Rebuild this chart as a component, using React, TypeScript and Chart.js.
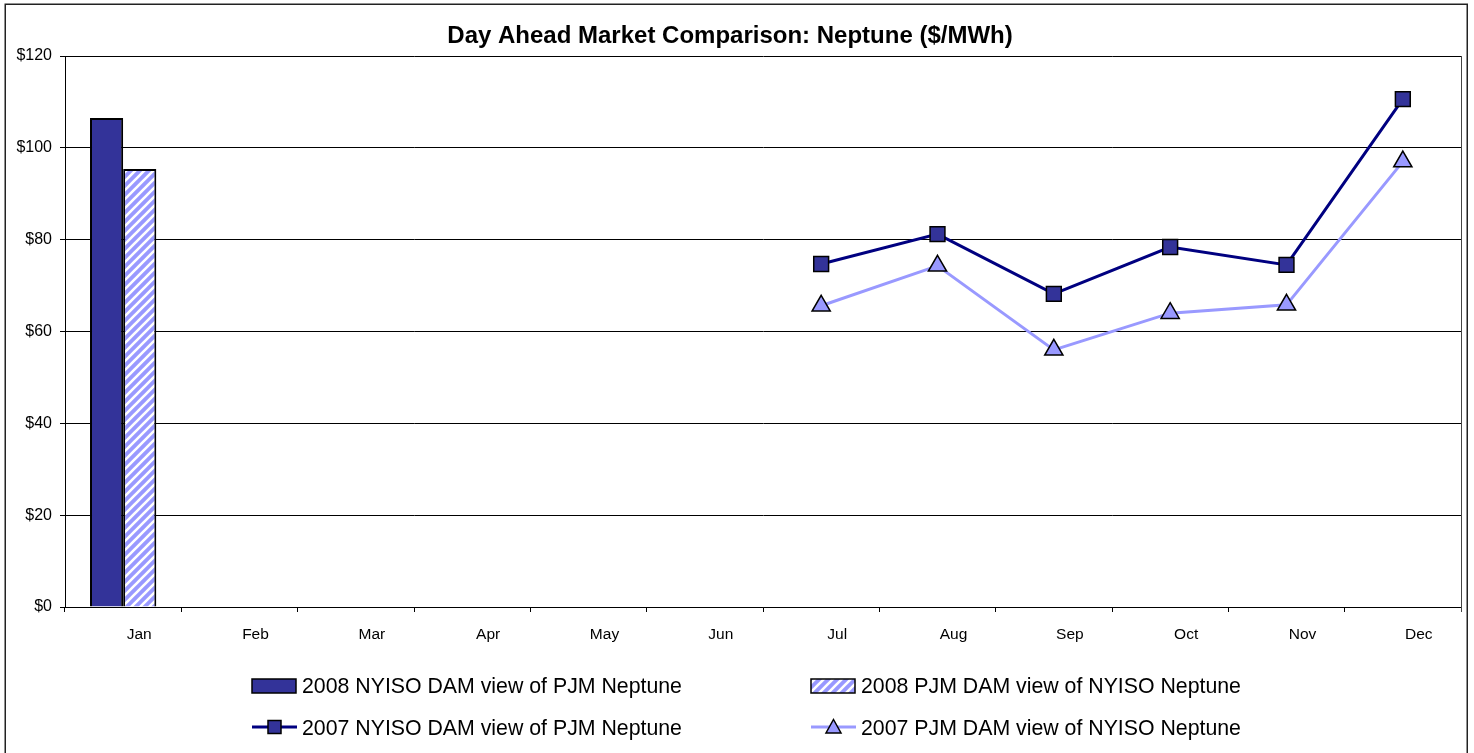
import { useEffect, useRef } from 'react';
import { Chart, registerables } from 'chart.js';

Chart.register(...registerables);

const FONT = "'Liberation Sans', Arial, sans-serif";

const titleText = 'Day Ahead Market Comparison: Neptune ($/MWh)';
const months = ['Jan', 'Feb', 'Mar', 'Apr', 'May', 'Jun', 'Jul', 'Aug', 'Sep', 'Oct', 'Nov', 'Dec'];
const nyiso2008: (number | null)[] = [106.5, null, null, null, null, null, null, null, null, null, null, null];
const pjm2008: (number | null)[] = [95.4, null, null, null, null, null, null, null, null, null, null, null];
const nyiso2007: (number | null)[] = [null, null, null, null, null, null, 74.7, 81.2, 68.2, 78.4, 74.5, 110.6];
const pjm2007: (number | null)[] = [null, null, null, null, null, null, 65.6, 74.3, 56.0, 64.0, 65.8, 97.0];
const seriesNames = [
  '2008 NYISO DAM view of PJM Neptune',
  '2008 PJM DAM view of NYISO Neptune',
  '2007 NYISO DAM view of PJM Neptune',
  '2007 PJM DAM view of NYISO Neptune',
];
const yMin = 0;
const yMax = 120;
const yStep = 20;

const DARK = '#333399';
const LIGHT = '#9999FF';
const NAVY = '#000080';

function makeHatch(): CanvasPattern | string {
  const c = document.createElement('canvas');
  const s = 9;
  c.width = s;
  c.height = s;
  const g = c.getContext('2d');
  if (!g) return LIGHT;
  g.fillStyle = LIGHT;
  g.fillRect(0, 0, s, s);
  g.strokeStyle = '#ffffff';
  g.lineWidth = 2.6;
  g.beginPath();
  g.moveTo(-1, s + 1);
  g.lineTo(s + 1, -1);
  g.moveTo(-2, 2);
  g.lineTo(2, -2);
  g.moveTo(s - 2, s + 2);
  g.lineTo(s + 2, s - 2);
  g.stroke();
  const p = g.createPattern(c, 'repeat');
  return p || LIGHT;
}

export default function App() {
  const ref = useRef<HTMLCanvasElement | null>(null);

  useEffect(() => {
    const canvas = ref.current;
    if (!canvas) return;
    const hatch = makeHatch();

    const decor = {
      id: 'decor',
      afterDraw(chart: any) {
        const ctx: CanvasRenderingContext2D = chart.ctx;
        const area = chart.chartArea;
        ctx.save();
        // outer frame
        ctx.strokeStyle = '#222';
        ctx.lineWidth = 1.5;
        ctx.strokeRect(5.25, 4.25, 1462, 800);
        // plot right border
        ctx.strokeStyle = '#444';
        ctx.lineWidth = 1;
        ctx.beginPath();
        ctx.moveTo(Math.round(area.right) + 0.5, area.top);
        ctx.lineTo(Math.round(area.right) + 0.5, area.bottom + 5);
        ctx.stroke();
        // title
        ctx.fillStyle = '#000';
        ctx.font = `bold 24px ${FONT}`;
        ctx.textAlign = 'center';
        ctx.textBaseline = 'alphabetic';
        ctx.fillText(titleText, 730, 43);

        // legend
        const cols = [252, 811];
        const rows = [686, 727];
        const baselines = [693, 735];
        ctx.font = `21.3px ${FONT}`;
        ctx.textAlign = 'left';
        for (let i = 0; i < 4; i++) {
          const col = i % 2;
          const row = Math.floor(i / 2);
          const x = cols[col];
          const y = rows[row];
          if (row === 0) {
            ctx.fillStyle = col === 0 ? DARK : (hatch as any);
            ctx.fillRect(x, y - 7, 44, 14);
            ctx.strokeStyle = '#000';
            ctx.lineWidth = 1.5;
            ctx.strokeRect(x, y - 7, 44, 14);
          } else {
            ctx.strokeStyle = col === 0 ? NAVY : LIGHT;
            ctx.lineWidth = 3;
            ctx.beginPath();
            ctx.moveTo(x, y);
            ctx.lineTo(x + 45, y);
            ctx.stroke();
            const cx = x + 22.5;
            ctx.lineWidth = 1.5;
            ctx.strokeStyle = '#000';
            if (col === 0) {
              ctx.fillStyle = DARK;
              ctx.fillRect(cx - 6.5, y - 6.5, 13, 13);
              ctx.strokeRect(cx - 6.5, y - 6.5, 13, 13);
            } else {
              ctx.fillStyle = LIGHT;
              ctx.beginPath();
              ctx.moveTo(cx, y - 7.5);
              ctx.lineTo(cx + 7.5, y + 6);
              ctx.lineTo(cx - 7.5, y + 6);
              ctx.closePath();
              ctx.fill();
              ctx.stroke();
            }
          }
          ctx.fillStyle = '#000';
          ctx.fillText(seriesNames[i], x + 50, baselines[row]);
        }
        ctx.restore();
      },
    };

    const chart = new Chart(canvas, {
      type: 'bar',
      data: {
        labels: months,
        datasets: [
          {
            type: 'bar',
            label: seriesNames[0],
            data: nyiso2008,
            backgroundColor: DARK,
            borderColor: '#000',
            borderWidth: 2,
            categoryPercentage: 0.57,
            barPercentage: 1,
            order: 2,
          } as any,
          {
            type: 'bar',
            label: seriesNames[1],
            data: pjm2008,
            backgroundColor: hatch as any,
            borderColor: '#000',
            borderWidth: 2,
            categoryPercentage: 0.57,
            barPercentage: 1,
            order: 2,
          } as any,
          {
            type: 'line',
            label: seriesNames[2],
            data: nyiso2007,
            borderColor: NAVY,
            borderWidth: 3,
            pointStyle: 'rect',
            pointRadius: 10.5,
            pointBackgroundColor: DARK,
            pointBorderColor: '#000',
            pointBorderWidth: 1.5,
            tension: 0,
            order: 1,
          } as any,
          {
            type: 'line',
            label: seriesNames[3],
            data: pjm2007,
            borderColor: LIGHT,
            borderWidth: 3,
            pointStyle: 'triangle',
            pointRadius: 10.5,
            pointBackgroundColor: LIGHT,
            pointBorderColor: '#000',
            pointBorderWidth: 1.5,
            tension: 0,
            order: 0,
          } as any,
        ],
      },
      options: {
        responsive: false,
        animation: false,
        devicePixelRatio: 1,
        layout: { padding: { left: 0, right: 13, top: 56, bottom: 0 } },
        plugins: {
          legend: { display: false },
          title: { display: false },
          tooltip: { enabled: false },
        },
        scales: {
          x: {
            type: 'category',
            offset: true,
            grid: {
              offset: true,
              drawOnChartArea: false,
              drawTicks: true,
              tickLength: 5,
              color: '#000',
            },
            border: { display: true, color: '#000', width: 1 },
            ticks: {
              color: '#000',
              font: { family: FONT, size: 15.5 },
              labelOffset: 16,
              padding: 13,
              maxRotation: 0,
              minRotation: 0,
              autoSkip: false,
            },
            afterFit(scale: any) {
              scale.height = 146;
            },
          },
          y: {
            min: yMin,
            max: yMax,
            grid: {
              color: '#000',
              lineWidth: 1,
              drawTicks: true,
              tickLength: 5,
            },
            border: { display: true, color: '#000', width: 1 },
            ticks: {
              stepSize: yStep,
              color: '#000',
              font: { family: FONT, size: 16 },
              padding: 8,
              callback: (v: any) => '$' + v,
            },
            afterFit(scale: any) {
              scale.width = 65;
            },
          },
        },
      },
      plugins: [decor],
    });

    return () => chart.destroy();
  }, []);

  return (
    <div style={{ position: 'absolute', left: 0, top: 0, width: 1474, height: 753, background: '#fff' }}>
      <canvas ref={ref} width={1474} height={753} style={{ display: 'block' }} />
    </div>
  );
}
